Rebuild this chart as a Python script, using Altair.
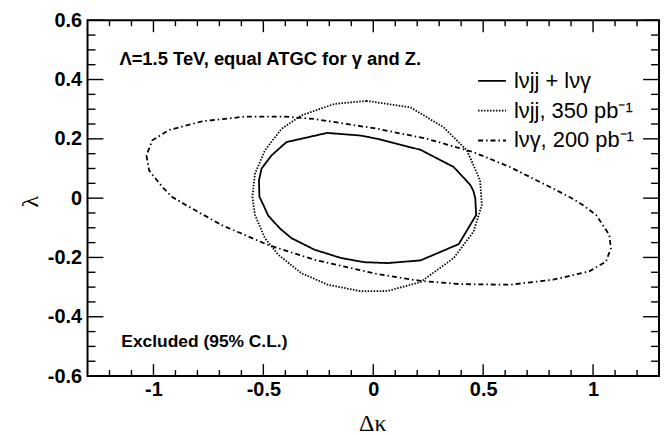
import altair as alt
import pandas as pd

# ---------------- data ----------------
series_names = ["lνjj + lνγ", "lνjj, 350 pb⁻¹", "lνγ, 200 pb⁻¹"]

comb_dk = [-0.21, -0.395, -0.463, -0.508, -0.520, -0.518, -0.500, -0.478, -0.425,
           -0.372, -0.267, -0.146, -0.041, 0.065, 0.215, 0.389, 0.468, 0.464,
           0.455, 0.441, 0.366, 0.215, 0.019, -0.056, -0.21]
comb_lam = [0.220, 0.189, 0.144, 0.100, 0.060, 0.005, -0.023, -0.059, -0.102,
            -0.135, -0.174, -0.202, -0.216, -0.219, -0.210, -0.155, -0.057, 0.000,
            0.025, 0.045, 0.105, 0.163, 0.200, 0.211, 0.220]

jj_dk = [-0.03, -0.176, -0.327, -0.417, -0.493, -0.538, -0.550, -0.538, -0.493,
         -0.432, -0.327, -0.207, -0.056, 0.065, 0.215, 0.366, 0.456, 0.494,
         0.486, 0.426, 0.320, 0.170, -0.03]
jj_lam = [0.328, 0.318, 0.279, 0.234, 0.161, 0.083, 0.004, -0.057, -0.135,
          -0.191, -0.253, -0.292, -0.314, -0.313, -0.283, -0.202, -0.113, -0.023,
          0.060, 0.161, 0.239, 0.306, 0.328]

ng_dk = [-1.032, -1.020, -0.960, -0.915, -0.839, -0.689, -0.478, -0.267, 0.019,
         0.215, 0.396, 0.622, 0.818, 0.983, 1.059, 1.081, 1.074, 1.014, 0.953,
         0.893, 0.773, 0.622, 0.456, 0.245, 0.019, -0.146, -0.267, -0.402,
         -0.583, -0.779, -0.929, -1.005, -1.032]
ng_lam = [0.144, 0.094, 0.038, 0.004, -0.029, -0.091, -0.158, -0.208, -0.256,
          -0.279, -0.290, -0.292, -0.275, -0.247, -0.214, -0.169, -0.124, -0.057,
          -0.023, 0.004, 0.049, 0.105, 0.155, 0.200, 0.234, 0.253, 0.267, 0.275,
          0.275, 0.259, 0.230, 0.195, 0.144]

x_major = [-1, -0.5, 0, 0.5, 1]
x_minor = [-1.2, -1.1, -0.9, -0.8, -0.7, -0.6, -0.4, -0.3, -0.2, -0.1,
           0.1, 0.2, 0.3, 0.4, 0.6, 0.7, 0.8, 0.9, 1.1, 1.2]
y_major = [-0.6, -0.4, -0.2, 0, 0.2, 0.4, 0.6]
y_minor = [-0.55, -0.5, -0.45, -0.35, -0.3, -0.25, -0.15, -0.1, -0.05,
           0.05, 0.1, 0.15, 0.25, 0.3, 0.35, 0.45, 0.5, 0.55]

note_top = ["Λ=1.5 TeV, equal ATGC for γ and Z."]
note_top_dk = [-1.155]
note_top_lam = [0.47]
note_bot = ["Excluded (95% C.L.)"]
note_bot_dk = [-1.146]
note_bot_lam = [-0.486]

# ---------------- tables ----------------
rows = []
for name, dks, lams in zip(series_names, [comb_dk, jj_dk, ng_dk], [comb_lam, jj_lam, ng_lam]):
    for i, (a, b) in enumerate(zip(dks, lams)):
        rows.append({"series": name, "dk": a, "lam": b, "idx": i})
df = pd.DataFrame(rows)

W, H = 575, 358
FONT = "Liberation Sans"
SERIF = "Liberation Serif"

xsc = alt.Scale(domain=[-1.3, 1.3], nice=False, zero=False)
ysc = alt.Scale(domain=[-0.6, 0.6], nice=False, zero=False)

lab_expr = ("datum.value == 0 ? '0' : (datum.value < 0 ? '-' + format(-datum.value, '~g') "
            ": format(datum.value, '~g'))")

x_axis = alt.Axis(values=x_major, labelExpr=lab_expr, ticks=False, tickSize=0, domain=False,
                  grid=False, labelFont=FONT, labelFontSize=20, labelFontWeight="bold",
                  labelColor="black", labelPadding=4, labelFlush=False, labelOverlap=False,
                  title="Δκ", titleFont=SERIF, titleFontSize=24, titleFontWeight="normal",
                  titleColor="black", titleBaseline="alphabetic", titleY=55, titleX=W / 2 - 1)
y_axis = alt.Axis(values=y_major, labelExpr=lab_expr, ticks=False, tickSize=0, domain=False,
                  grid=False, labelFont=FONT, labelFontSize=20, labelFontWeight="bold",
                  labelColor="black", labelPadding=6, labelFlush=False, labelOverlap=False,
                  title="λ", titleFont=SERIF, titleFontSize=24, titleFontWeight="normal",
                  titleColor="black", titleAngle=270, titleBaseline="middle", titleAlign="center",
                  titleX=-57, titleY=H / 2 + 3)

lines = alt.Chart(df).mark_line(color="black", strokeWidth=1.8).encode(
    x=alt.X("dk:Q", scale=xsc, axis=x_axis),
    y=alt.Y("lam:Q", scale=ysc, axis=y_axis),
    strokeDash=alt.StrokeDash(
        "series:N",
        scale=alt.Scale(domain=series_names, range=[[1, 0], [1.5, 1.5], [5, 3, 1.5, 3]]),
        legend=alt.Legend(title=None, orient="none", legendX=392, legendY=46,
                          symbolType="stroke", symbolSize=784, symbolStrokeWidth=1.8,
                          symbolStrokeColor="black", labelFont=FONT, labelFontSize=22,
                          labelColor="black", labelOffset=7, labelLimit=300,
                          rowPadding=4, padding=0, labelBaseline="middle"),
    ),
    order=alt.Order("idx:Q"),
)

xmaj_df = pd.DataFrame({"dk": x_major})
xmin_df = pd.DataFrame({"dk": x_minor})
ymaj_df = pd.DataFrame({"lam": y_major})
ymin_df = pd.DataFrame({"lam": y_minor})


def xticks(d, ln):
    base = alt.Chart(d).mark_rule(color="black", strokeWidth=1.4)
    bot = base.encode(x=alt.X("dk:Q", scale=xsc, axis=x_axis), y=alt.value(H), y2=alt.value(H - ln))
    top = base.encode(x=alt.X("dk:Q", scale=xsc, axis=x_axis), y=alt.value(0), y2=alt.value(ln))
    return [bot, top]


def yticks(d, ln):
    base = alt.Chart(d).mark_rule(color="black", strokeWidth=1.4)
    lef = base.encode(y=alt.Y("lam:Q", scale=ysc, axis=y_axis), x=alt.value(0), x2=alt.value(ln))
    rig = base.encode(y=alt.Y("lam:Q", scale=ysc, axis=y_axis), x=alt.value(W), x2=alt.value(W - ln))
    return [lef, rig]


def note(texts_, dks, lams, size):
    d = pd.DataFrame({"text": texts_, "dk": dks, "lam": lams})
    return alt.Chart(d).mark_text(align="left", baseline="middle", font=FONT,
                                  fontWeight="bold", fontSize=size, color="black").encode(
        x=alt.X("dk:Q", scale=xsc, axis=x_axis),
        y=alt.Y("lam:Q", scale=ysc, axis=y_axis),
        text="text:N",
    )


layers = ([lines] + xticks(xmaj_df, 12) + xticks(xmin_df, 6) + yticks(ymaj_df, 16)
          + yticks(ymin_df, 8)
          + [note(note_top, note_top_dk, note_top_lam, 18.5),
             note(note_bot, note_bot_dk, note_bot_lam, 17.5)])

chart = alt.layer(*layers).properties(
    width=W, height=H,
    autosize=alt.AutoSizeParams(type="none"),
    padding={"left": 80, "top": 11, "right": 2, "bottom": 58},
    background="white",
).configure_view(stroke="black", strokeWidth=2)

chart.save("out.html", embed_options={"renderer": "svg", "actions": False})
